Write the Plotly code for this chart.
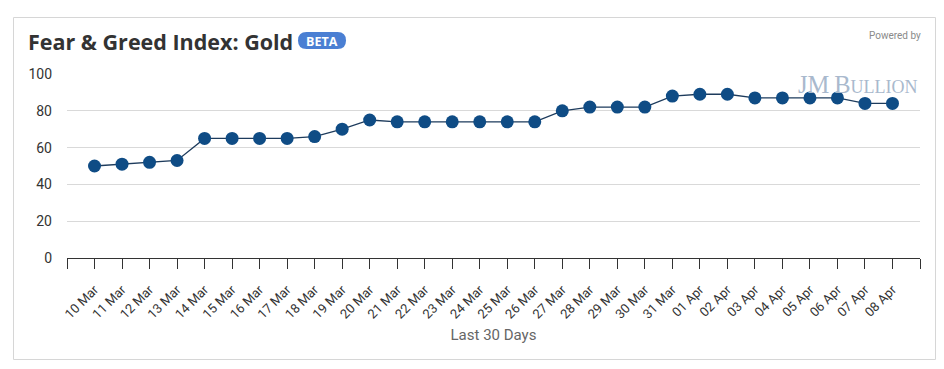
import plotly.graph_objects as go

dates = ["10 Mar", "11 Mar", "12 Mar", "13 Mar", "14 Mar", "15 Mar", "16 Mar", "17 Mar",
         "18 Mar", "19 Mar", "20 Mar", "21 Mar", "22 Mar", "23 Mar", "24 Mar", "25 Mar",
         "26 Mar", "27 Mar", "28 Mar", "29 Mar", "30 Mar", "31 Mar", "01 Apr", "02 Apr",
         "03 Apr", "04 Apr", "05 Apr", "06 Apr", "07 Apr", "08 Apr"]
values = [50, 51, 52, 53, 65, 65, 65, 65, 66, 70, 75, 74, 74, 74, 74, 74, 74, 80,
          82, 82, 82, 88, 89, 89, 87, 87, 87, 87, 84, 84]
y_ticks = [0, 20, 40, 60, 80, 100]

W, H = 944, 369
L, R, T, B = 67, 920, 74, 258  # plot area in pixels
pw, ph = R - L, B - T


def px(x):
    return (x - L) / pw


def py(y):
    return (B - y) / ph


xs = list(range(len(dates)))
tickvals = list(range(-1, len(dates) + 1))
ticktext = [""] + dates + [""]

fig = go.Figure()
fig.add_trace(go.Scatter(
    x=xs, y=values, mode="lines+markers",
    line=dict(color="#1d3b5c", width=1.3),
    marker=dict(color="#0f4c85", size=13),
    hoverinfo="skip", showlegend=False,
))

shapes = []
# card border
shapes.append(dict(type="rect", xref="paper", yref="paper",
                   x0=px(13.5), x1=px(935.5), y0=py(359.5), y1=py(17.5),
                   line=dict(color="#d6d6d6", width=1), fillcolor="rgba(0,0,0,0)", layer="below"))

# BETA pill
bx0, bx1, by0, by1 = 298, 346, 32, 49
r = (by1 - by0) / 2
path = (f"M {px(bx0 + r)} {py(by0)} L {px(bx1 - r)} {py(by0)} "
        f"Q {px(bx1)} {py(by0)} {px(bx1)} {py(by0 + r)} "
        f"Q {px(bx1)} {py(by1)} {px(bx1 - r)} {py(by1)} "
        f"L {px(bx0 + r)} {py(by1)} "
        f"Q {px(bx0)} {py(by1)} {px(bx0)} {py(by0 + r)} "
        f"Q {px(bx0)} {py(by0)} {px(bx0 + r)} {py(by0)} Z")
shapes.append(dict(type="path", xref="paper", yref="paper", path=path,
                   fillcolor="#4a7fd3", line=dict(width=0)))

annotations = [
    dict(text="<b>Fear &amp; Greed Index: Gold</b>", xref="paper", yref="paper",
         x=px(26), y=py(41), xanchor="left", yanchor="middle", showarrow=False,
         font=dict(family="Open Sans", size=21.5, color="#333333")),
    dict(text="<b>BETA</b>", xref="paper", yref="paper",
         x=px((bx0 + bx1) / 2), y=py((by0 + by1) / 2 + 0.5), xanchor="center", yanchor="middle",
         showarrow=False, font=dict(family="Open Sans", size=12.5, color="white")),
    dict(text="Powered by", xref="paper", yref="paper",
         x=px(923), y=py(36), xanchor="right", yanchor="middle", showarrow=False,
         font=dict(family="Roboto", size=10, color="#8a8a8a")),
    dict(text="JM\u2009B<span style='font-size:18px'>ULLION</span>", xref="paper", yref="paper",
         x=px(920), y=py(84), xanchor="right", yanchor="middle", showarrow=False,
         font=dict(family="Liberation Serif", size=24.5, color="#a9b9cd")),
]

fig.update_layout(
    width=W, height=H,
    margin=dict(l=L, r=W - R, t=T, b=H - B),
    paper_bgcolor="white", plot_bgcolor="white",
    font=dict(family="Roboto", color="#333333"),
    shapes=shapes, annotations=annotations,
    xaxis=dict(
        range=[-1, len(dates)], tickmode="array", tickvals=tickvals, ticktext=ticktext,
        tickangle=-45, ticks="outside", ticklen=10, tickcolor="#333333", tickwidth=1,
        showline=True, linecolor="#333333", linewidth=1, showgrid=False, zeroline=False,
        tickfont=dict(family="Roboto", size=13, color="#333333"), ticklabelstandoff=8,
        title=dict(text="Last 30 Days", font=dict(family="Roboto", size=15, color="#666666"), standoff=8),
        fixedrange=True,
    ),
    yaxis=dict(
        range=[0, 100], tickmode="array", tickvals=y_ticks,
        showgrid=True, gridcolor="#d9d9d9", gridwidth=1, zeroline=False, showline=False,
        tickfont=dict(family="Roboto", size=14, color="#333333"), ticklabelstandoff=14,
        fixedrange=True,
    ),
)

fig.write_html("out.html", post_script="document.body.style.margin='0';",
               config={"displayModeBar": False})
